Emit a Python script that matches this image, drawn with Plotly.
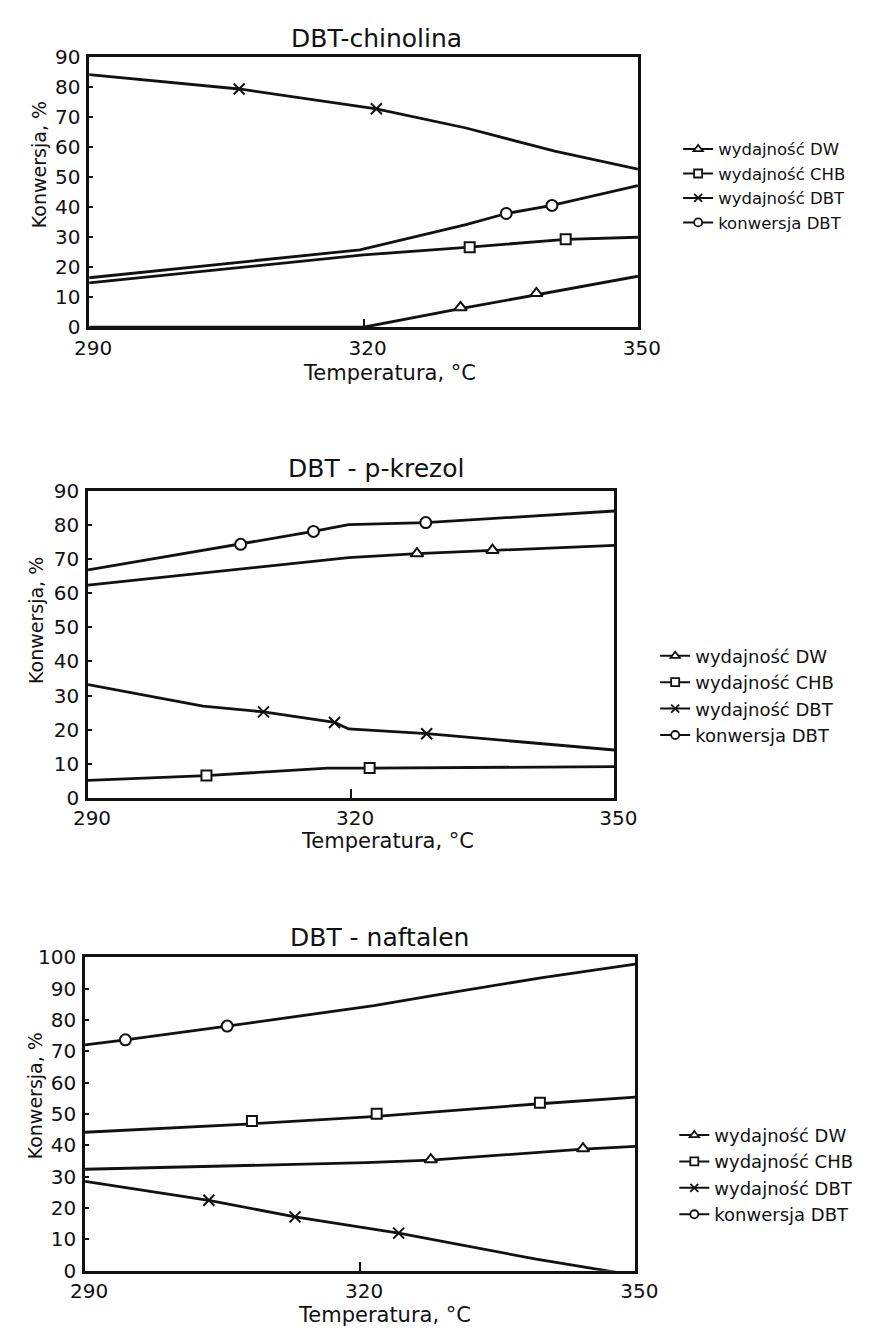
import plotly.graph_objects as go

# ---------------- data ----------------
series_names = ["wydajność DW", "wydajność CHB", "wydajność DBT", "konwersja DBT"]
panel_titles = ["DBT-chinolina", "DBT - p-krezol", "DBT - naftalen"]
x_ticks = [290, 320, 350]
y_ticks_1 = [0, 10, 20, 30, 40, 50, 60, 70, 80, 90]
y_ticks_2 = [0, 10, 20, 30, 40, 50, 60, 70, 80, 90]
y_ticks_3 = [0, 10, 20, 30, 40, 50, 60, 70, 80, 90, 100]

# Panel 1: DBT-chinolina  (smoothed curve points, then measured points)
p1_dw_curve_T = [290, 320, 330.6, 338.9, 350]
p1_dw_curve_Y = [0, 0, 6.2, 10.9, 17.0]
p1_dw_meas_T = [330.6, 338.9]
p1_dw_meas_Y = [6.6, 11.3]
p1_chb_curve_T = [290, 320, 331.6, 342.1, 350]
p1_chb_curve_Y = [14.8, 24.1, 26.7, 29.3, 30.0]
p1_chb_meas_T = [331.6, 342.1]
p1_chb_meas_Y = [26.7, 29.3]
p1_dbt_curve_T = [290, 306.4, 321.4, 331.2, 340.9, 350]
p1_dbt_curve_Y = [84.2, 79.4, 72.8, 66.4, 58.7, 52.7]
p1_dbt_meas_T = [306.4, 321.4]
p1_dbt_meas_Y = [79.4, 72.8]
p1_konw_curve_T = [290, 319.6, 331.2, 335.6, 340.6, 350]
p1_konw_curve_Y = [16.5, 25.8, 34.2, 37.9, 40.6, 47.2]
p1_konw_meas_T = [335.6, 340.6]
p1_konw_meas_Y = [37.9, 40.6]

# Panel 2: DBT - p-krezol
p2_dw_curve_T = [290, 307.4, 319.7, 327.5, 336.1, 350]
p2_dw_curve_Y = [62.4, 67.2, 70.5, 71.7, 72.7, 74.1]
p2_dw_meas_T = [327.5, 336.1]
p2_dw_meas_Y = [71.7, 72.7]
p2_chb_curve_T = [290, 303.5, 317.3, 322.1, 350]
p2_chb_curve_Y = [5.1, 6.5, 8.7, 8.7, 9.1]
p2_chb_meas_T = [303.5, 322.1]
p2_chb_meas_Y = [6.5, 8.7]
p2_dbt_curve_T = [290, 303.1, 310.0, 318.1, 319.7, 328.6, 350]
p2_dbt_curve_Y = [33.2, 26.9, 25.2, 22.1, 20.2, 18.8, 14.0]
p2_dbt_meas_T = [310.0, 318.1, 328.6]
p2_dbt_meas_Y = [25.2, 22.1, 18.8]
p2_konw_curve_T = [290, 307.4, 315.7, 319.7, 328.5, 350]
p2_konw_curve_Y = [66.9, 74.4, 78.2, 80.2, 80.8, 84.2]
p2_konw_meas_T = [307.4, 315.7, 328.5]
p2_konw_meas_Y = [74.4, 78.2, 80.8]

# Panel 3: DBT - naftalen
p3_dw_curve_T = [290, 320.6, 327.7, 344.3, 350]
p3_dw_curve_Y = [32.4, 34.5, 35.3, 38.8, 39.7]
p3_dw_meas_T = [327.7, 344.3]
p3_dw_meas_Y = [35.5, 39.0]
p3_chb_curve_T = [290, 308.2, 321.8, 339.6, 350]
p3_chb_curve_Y = [44.2, 46.9, 49.3, 53.3, 55.4]
p3_chb_meas_T = [308.2, 321.8, 339.6]
p3_chb_meas_Y = [47.8, 50.1, 53.6]
p3_dbt_curve_T = [290, 303.5, 312.9, 324.2, 339.2, 350]
p3_dbt_curve_Y = [28.5, 22.5, 17.2, 12.0, 3.7, -1.5]
p3_dbt_meas_T = [303.5, 312.9, 324.2]
p3_dbt_meas_Y = [22.5, 17.2, 12.0]
p3_konw_curve_T = [290, 294.4, 305.5, 321.5, 327.9, 339.7, 350]
p3_konw_curve_Y = [72.1, 73.7, 78.1, 84.6, 87.8, 93.5, 97.9]
p3_konw_meas_T = [294.4, 305.5]
p3_konw_meas_Y = [73.7, 78.1]

# ---------------- styling / layout ----------------
W, H = 882, 1340
FONT = "DejaVu Sans, sans-serif"
INK = "#111111"

def px_x(x):
    return x / W

def px_y(y):
    return 1 - y / H

panels = [
    dict(
        data=[
            (p1_dw_curve_T, p1_dw_curve_Y, p1_dw_meas_T, p1_dw_meas_Y),
            (p1_chb_curve_T, p1_chb_curve_Y, p1_chb_meas_T, p1_chb_meas_Y),
            (p1_dbt_curve_T, p1_dbt_curve_Y, p1_dbt_meas_T, p1_dbt_meas_Y),
            (p1_konw_curve_T, p1_konw_curve_Y, p1_konw_meas_T, p1_konw_meas_Y),
        ],
        yticks=y_ticks_1, box=(77.5, 651, 46, 321),
        title_pos=(378, 27), ylab_pos=(25, 155), xlab_pos=(391, 368),
        legend_pos=(693, 122), legend_size=16.5, legend_gap=0,
    ),
    dict(
        data=[
            (p2_dw_curve_T, p2_dw_curve_Y, p2_dw_meas_T, p2_dw_meas_Y),
            (p2_chb_curve_T, p2_chb_curve_Y, p2_chb_meas_T, p2_chb_meas_Y),
            (p2_dbt_curve_T, p2_dbt_curve_Y, p2_dbt_meas_T, p2_dbt_meas_Y),
            (p2_konw_curve_T, p2_konw_curve_Y, p2_konw_meas_T, p2_konw_meas_Y),
        ],
        yticks=y_ticks_2, box=(76.3, 626.4, 488, 800),
        title_pos=(377, 465), ylab_pos=(22, 620), xlab_pos=(389, 844),
        legend_pos=(669, 637), legend_size=18, legend_gap=0,
    ),
    dict(
        data=[
            (p3_dw_curve_T, p3_dw_curve_Y, p3_dw_meas_T, p3_dw_meas_Y),
            (p3_chb_curve_T, p3_chb_curve_Y, p3_chb_meas_T, p3_chb_meas_Y),
            (p3_dbt_curve_T, p3_dbt_curve_Y, p3_dbt_meas_T, p3_dbt_meas_Y),
            (p3_konw_curve_T, p3_konw_curve_Y, p3_konw_meas_T, p3_konw_meas_Y),
        ],
        yticks=y_ticks_3, box=(73.2, 648.2, 962.7, 1281.7),
        title_pos=(381, 942), ylab_pos=(21, 1104), xlab_pos=(386, 1327),
        legend_pos=(689, 1125), legend_size=18, legend_gap=0,
    ),
]

symbols = ["triangle-up", "square", "x-thin", "circle"]
msizes = [11, 10, 11, 11]

fig = go.Figure()
annotations = []
layout_updates = {}

for i, p in enumerate(panels, start=1):
    xa = "x" if i == 1 else f"x{i}"
    ya = "y" if i == 1 else f"y{i}"
    lg = "legend" if i == 1 else f"legend{i}"
    for k, (cT, cY, mT, mY) in enumerate(p["data"]):
        grp = f"p{i}s{k}"
        fig.add_trace(go.Scatter(
            x=cT, y=cY, mode="lines", xaxis=xa, yaxis=ya,
            line=dict(color=INK, width=2.8), showlegend=False, hoverinfo="skip",
            legendgroup=grp,
        ))
        fig.add_trace(go.Scatter(
            x=mT, y=mY, mode="markers", xaxis=xa, yaxis=ya,
            marker=dict(symbol=symbols[k], size=msizes[k],
                        color="white", line=dict(color=INK, width=2)),
            showlegend=False, name=series_names[k], legendgroup=grp,
        ))
        # legend key (marker on a short line, as in the printed key)
        fig.add_trace(go.Scatter(
            x=[None], y=[None], mode="lines+markers", xaxis=xa, yaxis=ya,
            name=series_names[k], legend=lg, legendgroup=grp,
            line=dict(color=INK, width=2),
            marker=dict(symbol=symbols[k], size=8,
                        color="white", line=dict(color=INK, width=1.8)),
        ))

    x0, x1, y0, y1 = p["box"]
    axis_common = dict(showline=True, mirror=True, linecolor=INK, linewidth=2.5,
                       showgrid=False, zeroline=False,
                       tickfont=dict(family=FONT, size=20, color=INK),
                       ticks="inside", tickcolor=INK)
    key_x = "xaxis" if i == 1 else f"xaxis{i}"
    key_y = "yaxis" if i == 1 else f"yaxis{i}"
    layout_updates[key_x] = dict(
        axis_common, domain=[px_x(x0), px_x(x1)], anchor=ya,
        range=[290, 350], tickvals=x_ticks, ticklen=9, tickwidth=2,
        ticklabelstandoff=1, ticklabelshift=4,
    )
    layout_updates[key_y] = dict(
        axis_common, domain=[px_y(y1), px_y(y0)], anchor=xa,
        range=[0, p["yticks"][-1]], tickvals=p["yticks"], ticklen=4, tickwidth=1.5,
        ticklabelstandoff=2,
    )
    lx, ly = p["legend_pos"]
    layout_updates[lg] = dict(
        x=px_x(lx), y=px_y(ly), xanchor="left", yanchor="top",
        xref="paper", yref="paper", bgcolor="rgba(0,0,0,0)",
        font=dict(family=FONT, size=p["legend_size"], color=INK),
        traceorder="grouped", tracegroupgap=p["legend_gap"], itemwidth=30,
    )
    tx, ty = p["title_pos"]
    annotations.append(dict(text=panel_titles[i - 1], x=px_x(tx), y=px_y(ty),
                            xref="paper", yref="paper", showarrow=False,
                            xanchor="center", yanchor="middle",
                            font=dict(family=FONT, size=25, color=INK)))
    vx, vy = p["ylab_pos"]
    annotations.append(dict(text="Konwersja, %", x=px_x(vx), y=px_y(vy),
                            xref="paper", yref="paper", showarrow=False,
                            textangle=-90, xanchor="center", yanchor="middle",
                            font=dict(family=FONT, size=19, color=INK)))
    hx, hy = p["xlab_pos"]
    annotations.append(dict(text="Temperatura, °C", x=px_x(hx), y=px_y(hy),
                            xref="paper", yref="paper", showarrow=False,
                            xanchor="center", yanchor="middle",
                            font=dict(family=FONT, size=21, color=INK)))

fig.update_layout(
    width=W, height=H, margin=dict(l=0, r=0, t=0, b=0),
    paper_bgcolor="white", plot_bgcolor="white",
    annotations=annotations, **layout_updates,
)

fig.write_html("out.html", config={"displayModeBar": False},
               post_script="document.body.style.margin='0';document.body.style.overflow='hidden';")
